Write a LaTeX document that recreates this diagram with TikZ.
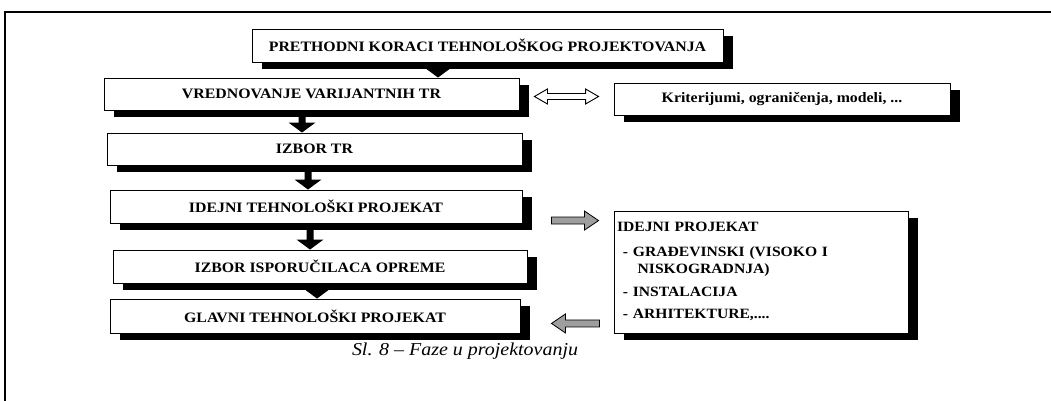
\documentclass[tikz,border=0pt]{standalone}
\usepackage{graphicx}
\usepackage{fontspec}
\setmainfont{Liberation Serif}[FakeStretch=1.1]
\usetikzlibrary{calc,shadows}

% block arrow outlines: start x, end x, axis y, shaft half-height, head half-height, head length
\newcommand\singlearrowpath[6]{({#1},{#3+#4}) -- ({#2-(#6)},{#3+#4}) -- ({#2-(#6)},{#3+#5}) -- ({#2},{#3})
  -- ({#2-(#6)},{#3-#5}) -- ({#2-(#6)},{#3-#4}) -- ({#1},{#3-#4}) -- cycle}
\newcommand\doublearrowpath[6]{({#1},{#3}) -- ({#1+#6},{#3+#5}) -- ({#1+#6},{#3+#4}) -- ({#2-#6},{#3+#4})
  -- ({#2-#6},{#3+#5}) -- ({#2},{#3}) -- ({#2-#6},{#3-#5}) -- ({#2-#6},{#3-#4}) -- ({#1+#6},{#3-#4})
  -- ({#1+#6},{#3-#5}) -- cycle}
% black downward block arrow between two stacked boxes, at a given x
\newcommand\downblock[3]{%
  \fill[flowarrow] let \p1=(#1.south), \p2=(#2.north) in
    (#3pt-3.5pt,\y1) -- (#3pt+3.5pt,\y1) -- (#3pt+3.5pt,\y2+10pt) -- (#3pt+13.5pt,\y2+10pt)
    -- (#3pt,\y2) -- (#3pt-13.5pt,\y2+10pt) -- (#3pt-3.5pt,\y2+10pt) -- cycle;}
\newcommand\boxfont{\fontsize{14.4pt}{17pt}\selectfont\bfseries}
\newcommand\capfont{\fontsize{18pt}{21pt}\selectfont\itshape}

\tikzset{
  stepbox/.style={draw=black, line width=0.9pt, fill=white, inner sep=3pt,
    general shadow={fill=black, shadow xshift=10pt, shadow yshift=-7pt},
    font=\boxfont},
  flowarrow/.style={fill=black},
  grayarrow/.style={draw=black, line width=0.8pt, fill=black!38},
  openarrow/.style={draw=black, line width=0.9pt, fill=white},
  frameline/.style={line width=1.3pt},
}

\begin{document}
\begin{tikzpicture}[x=1pt, y=-1pt]
\useasboundingbox (0,0) rectangle (1051,401);

% outer frame (runs off the right and bottom edges)
\draw[frameline] (1060,12) -- (5,12) -- (5,410);

% main sequence of phases
\node[stepbox, minimum width=471, minimum height=33] (b1) at (487.5,45.5)
  {PRETHODNI KORACI TEHNOLOŠKOG PROJEKTOVANJA};
\node[stepbox, minimum width=415, minimum height=32] (b2) at (311.5,94)
  {VREDNOVANJE VARIJANTNIH TR};
\node[stepbox, minimum width=415, minimum height=32] (b3) at (314.5,149)
  {IZBOR TR};
\node[stepbox, minimum width=412, minimum height=33] (b4) at (316,206.5)
  {IDEJNI TEHNOLOŠKI PROJEKAT};
\node[stepbox, minimum width=414, minimum height=33] (b5) at (320,266.5)
  {IZBOR ISPORUČILACA OPREME};
\node[stepbox, minimum width=410, minimum height=34] (b6) at (315,316)
  {GLAVNI TEHNOLOŠKI PROJEKAT};

% side boxes
\node[stepbox, minimum width=336, minimum height=32] (krit) at (782,99)
  {Kriterijumi, ograničenja, modeli, ...};
\node[stepbox, text width=288, minimum height=122, align=left] (ideja) at (761,272)
  {\resizebox{211pt}{!}{\boxfont\begin{tabular}{@{}l@{}}
   IDEJNI PROJEKAT\\[8pt]
   \hspace*{6pt}- GRAĐEVINSKI (VISOKO I\\
   \hspace*{21pt}NISKOGRADNJA)\\[6pt]
   \hspace*{6pt}- INSTALACIJA\\[6pt]
   \hspace*{6pt}- ARHITEKTURE,....
   \end{tabular}}};

% flow between phases
\downblock{b1}{b2}{438}
\downblock{b2}{b3}{302}
\downblock{b3}{b4}{308}
\downblock{b4}{b5}{310}
\downblock{b5}{b6}{317}

% evaluation <-> criteria
\draw[openarrow] let \p1=(b2.east), \p2=(krit.west), \p3=($(b2.center)!0.5!(krit.center)$) in
  \doublearrowpath{\x1+15pt}{\x2-15pt}{\y3}{3pt}{7.5pt}{13pt};

% preliminary design -> other disciplines, and back into the main design
\draw[grayarrow] let \p1=(b4.east), \p2=(ideja.north west) in
  \singlearrowpath{\x1+29pt}{\x2-15pt}{\y2-10pt}{3.5pt}{9.5pt}{14pt};
\draw[grayarrow] let \p1=(ideja.south west), \p2=(b6.east) in
  \singlearrowpath{\x1-14pt}{\x2+31pt}{\y1+10pt}{3.5pt}{9.5pt}{-14pt};

% caption
\node (cap) at (465,351) {\resizebox{226pt}{!}{\capfont Sl. 8 – Faze u projektovanju}};
\end{tikzpicture}
\end{document}
